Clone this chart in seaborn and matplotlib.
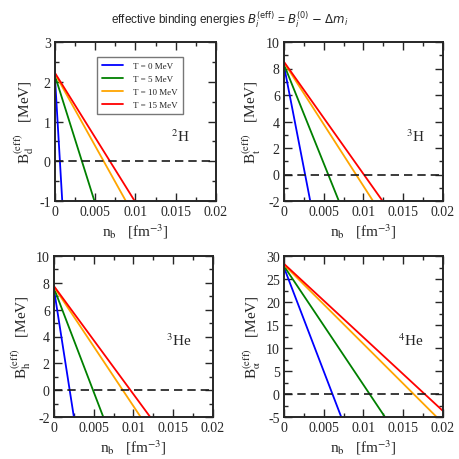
import numpy as np
import pandas as pd
import matplotlib
matplotlib.use("Agg")
import matplotlib.pyplot as plt
import seaborn as sns
from matplotlib.ticker import MultipleLocator

sns.set_theme(style="ticks")
plt.rcParams['font.family'] = ['Liberation Serif', 'DejaVu Serif']
plt.rcParams['mathtext.fontset'] = 'stix'
plt.rcParams['axes.unicode_minus'] = False

temps = ['T = 0 MeV', 'T = 5 MeV', 'T = 10 MeV', 'T = 15 MeV']
colors = ['#0000ff', '#008000', '#ffa500', '#ff0000']

# line endpoints (n_b, B)
B0_d = [2.10, 2.15, 2.20, 2.22]
nb_end_d = [0.0009, 0.0049, 0.0088, 0.0099]
B_end_d = [-1, -1, -1, -1]

B0_t = [8.20, 8.30, 8.45, 8.50]
nb_end_t = [0.0033, 0.0069, 0.0112, 0.0124]
B_end_t = [-2, -2, -2, -2]

B0_h = [7.50, 7.60, 7.70, 7.75]
nb_end_h = [0.0025, 0.0062, 0.0109, 0.0121]
B_end_h = [-2, -2, -2, -2]

B0_a = [27.5, 27.8, 28.1, 28.3]
nb_end_a = [0.0072, 0.0127, 0.0192, 0.0200]
B_end_a = [-5, -5, -5, -3.7]

panels = [
    dict(B0=B0_d, nb=nb_end_d, Be=B_end_d, ylim=(-1, 3), major=1, minor=0.5,
         sub='d', nuc=r'$^{2}$H', pos=(0.72, 0.41), rect=[55, 43, 161, 159]),
    dict(B0=B0_t, nb=nb_end_t, Be=B_end_t, ylim=(-2, 10), major=2, minor=1,
         sub='t', nuc=r'$^{3}$H', pos=(0.765, 0.41), rect=[284, 43, 159, 159]),
    dict(B0=B0_h, nb=nb_end_h, Be=B_end_h, ylim=(-2, 10), major=2, minor=1,
         sub='h', nuc=r'$^{3}$He', pos=(0.705, 0.48), rect=[54, 257, 159, 161]),
    dict(B0=B0_a, nb=nb_end_a, Be=B_end_a, ylim=(-5, 30), major=5, minor=2.5,
         sub=r'\alpha', nuc=r'$^{4}$He', pos=(0.715, 0.48), rect=[284, 257, 159, 161]),
]

W = H = 460
fig = plt.figure(figsize=(4.6, 4.6), dpi=100)

for k, p in enumerate(panels):
    l, t, w, h = p['rect']
    ax = fig.add_axes([l / W, (H - t - h) / H, w / W, h / H])
    rows = []
    for T, b0, xe, ye in zip(temps, p['B0'], p['nb'], p['Be']):
        rows.append((T, 0.0, b0))
        rows.append((T, xe, ye))
    df = pd.DataFrame(rows, columns=['T', 'nb', 'B'])
    sns.lineplot(data=df, x='nb', y='B', hue='T', palette=colors, lw=1.3,
                 legend=(k == 0), ax=ax, sort=False)
    ax.axhline(0, color='k', ls=(0, (5, 3)), lw=1.2)
    ax.set_xlim(0, 0.02)
    ax.set_ylim(*p['ylim'])
    ax.xaxis.set_major_locator(MultipleLocator(0.005))
    ax.xaxis.set_minor_locator(MultipleLocator(0.0025))
    ax.yaxis.set_major_locator(MultipleLocator(p['major']))
    ax.yaxis.set_minor_locator(MultipleLocator(p['minor']))
    ax.set_xticks([0, 0.005, 0.01, 0.015, 0.02])
    ax.set_xticklabels(['0', '0.005', '0.01', '0.015', '0.02'])
    ax.tick_params(which='both', direction='in', top=True, right=True,
                   labelsize=10, width=1.0, pad=3)
    ax.tick_params(which='major', length=6)
    ax.tick_params(which='minor', length=3)
    for s in ax.spines.values():
        s.set_linewidth(1.4)
    ax.set_xlabel(r'n$_\mathrm{b}$   [fm$^{-3}$]', fontsize=11, labelpad=2)
    ax.set_ylabel(r'B$_{\mathrm{%s}}^{\mathrm{(eff)}}$   [MeV]' % p['sub'],
                  fontsize=11, labelpad=2)
    ax.text(p['pos'][0], p['pos'][1], p['nuc'], transform=ax.transAxes,
            fontsize=11, ha='left', va='center')
    if k == 0:
        leg = ax.legend(loc='upper left', bbox_to_anchor=(0.26, 0.905),
                        fontsize=6.5, frameon=True, fancybox=False,
                        handlelength=2.4, borderpad=0.55, labelspacing=0.5,
                        handletextpad=1.1, borderaxespad=0)
        leg.get_frame().set_edgecolor('#555555')
        leg.get_frame().set_linewidth(1.0)

fig.text(0.5, 0.957,
         r'effective binding energies $B_i^{(\mathrm{eff})}$ = $B_i^{(0)}$ $-$ $\Delta m_i$',
         ha='center', va='center', fontsize=8.5,
         family=['Liberation Sans', 'DejaVu Sans'],
         math_fontfamily='dejavusans')

fig.savefig('out.png', dpi=100)
